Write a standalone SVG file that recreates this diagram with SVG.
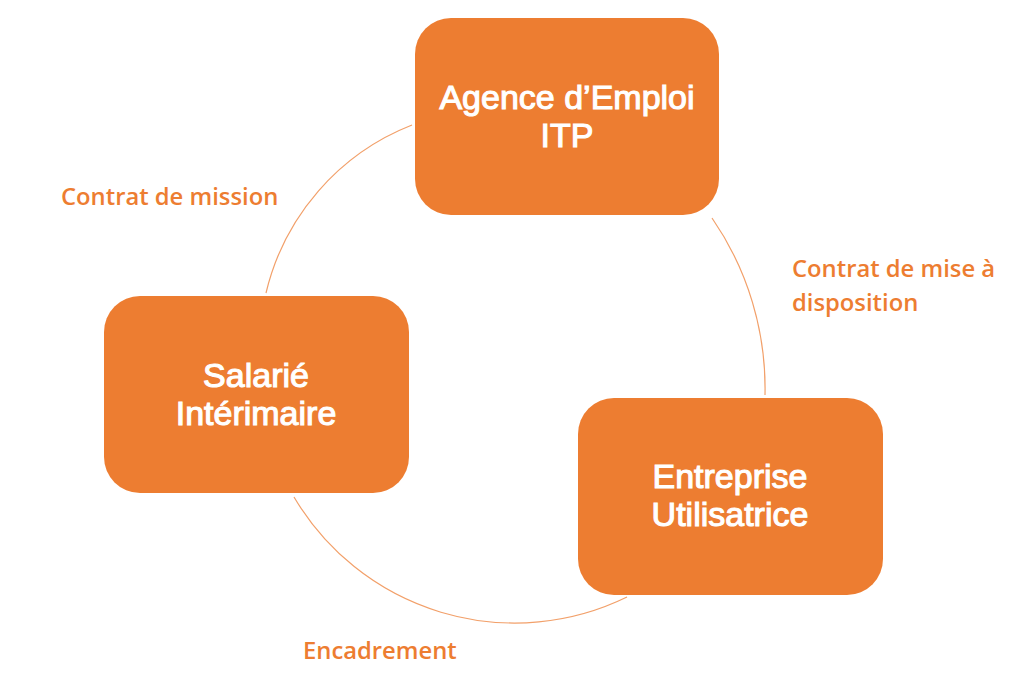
<svg xmlns="http://www.w3.org/2000/svg" width="1024" height="683" viewBox="0 0 1024 683">
<style>
.box{fill:#ED7D31;}
.nt{font-family:"Liberation Sans",Arial,sans-serif;font-size:34px;fill:#FFFFFF;stroke:#FFFFFF;stroke-width:1.1px;text-anchor:middle;}
.lb{font-family:"Open Sans","Liberation Sans",sans-serif;font-size:23.8px;font-weight:600;fill:#ED7D31;}
.arc{fill:none;stroke:#F2A06A;stroke-width:1.2;}
</style>
<rect width="1024" height="683" fill="#FFFFFF"/>
<g id="connectors">
<path class="arc" d="M412,125 A240,240 0 0 0 266,293"/>
<path class="arc" d="M712,218 A300,300 0 0 1 765,395"/>
<path class="arc" d="M294,497 A256,256 0 0 0 627,597"/>
</g>
<g id="agence">
<rect class="box" x="415" y="18" width="304" height="197" rx="36" ry="36"/>
<text class="nt" x="567" y="109"><tspan x="567" y="109">Agence d’Emploi</tspan><tspan x="567" y="147">ITP</tspan></text>
</g>
<g id="salarie">
<rect class="box" x="104" y="296" width="305" height="197" rx="36" ry="36"/>
<text class="nt" x="256" y="387"><tspan x="256" y="387">Salarié</tspan><tspan x="256" y="425">Intérimaire</tspan></text>
</g>
<g id="entreprise">
<rect class="box" x="578" y="398" width="305" height="197" rx="36" ry="36"/>
<text class="nt" x="730" y="488"><tspan x="730" y="488">Entreprise</tspan><tspan x="730" y="526">Utilisatrice</tspan></text>
</g>
<g id="labels">
<text class="lb" x="61" y="205">Contrat de mission</text>
<text class="lb" x="792" y="277"><tspan x="792" y="277">Contrat de mise à</tspan><tspan x="792" y="311">disposition</tspan></text>
<text class="lb" x="303" y="659">Encadrement</text>
</g>
</svg>
